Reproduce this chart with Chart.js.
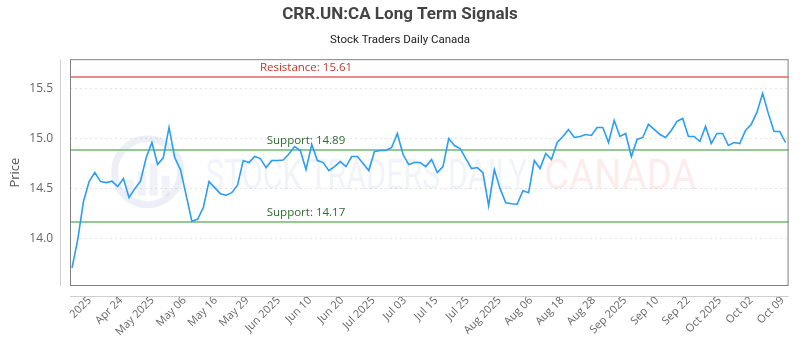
<!DOCTYPE html>
<html>
<head>
<meta charset="utf-8">
<script src="https://cdn.jsdelivr.net/npm/chart.js@4.4.1/dist/chart.umd.min.js"></script>
<style>
  html, body { margin: 0; padding: 0; background: #fff; }
  #wrap { width: 800px; height: 350px; position: relative; }
</style>
</head>
<body>
<div id="wrap"><canvas id="signals-canvas"></canvas></div>
<script>
// daily closes, Apr 11 2025 .. Oct 10 2025
const closes = [
    13.71, 13.99, 14.37, 14.57, 14.66, 14.57, 14.56, 14.575, 14.52, 14.60,
    14.41, 14.50, 14.575, 14.81, 14.96, 14.74, 14.81, 15.11, 14.81, 14.69,
    14.435, 14.175, 14.195, 14.31, 14.57, 14.51, 14.45, 14.435, 14.46, 14.535,
    14.78, 14.76, 14.82, 14.80, 14.71, 14.78, 14.78, 14.785, 14.845, 14.92,
    14.88, 14.69, 14.94, 14.78, 14.76, 14.68, 14.72, 14.77, 14.72, 14.82,
    14.82, 14.75, 14.68, 14.87, 14.88, 14.88, 14.91, 15.05, 14.84, 14.74,
    14.76, 14.76, 14.72, 14.79, 14.66, 14.72, 15.00, 14.93, 14.90, 14.80,
    14.70, 14.71, 14.66, 14.33, 14.69, 14.50, 14.36, 14.35, 14.345, 14.48,
    14.46, 14.78, 14.70, 14.85, 14.79, 14.96, 15.02, 15.09, 15.01, 15.02,
    15.04, 15.03, 15.11, 15.11, 14.96, 15.18, 15.02, 15.05, 14.82, 14.99,
    15.01, 15.14, 15.09, 15.04, 15.01, 15.08, 15.17, 15.20, 15.02, 15.02,
    14.97, 15.12, 14.95, 15.05, 15.05, 14.93, 14.96, 14.95, 15.08, 15.14,
    15.26, 15.45, 15.25, 15.07, 15.07, 14.96
];

// x tick labels and where they sit (in point-index units)
const xTickLabels = ['2025', 'Apr 24', 'May 2025', 'May 06', 'May 16', 'May 29', 'Jun 2025', 'Jun 10',
    'Jun 20', 'Jul 2025', 'Jul 03', 'Jul 15', 'Jul 25', 'Aug 2025', 'Aug 06', 'Aug 18', 'Aug 28',
    'Sep 2025', 'Sep 10', 'Sep 22', 'Oct 2025', 'Oct 02', 'Oct 09'];
const xTickAt = [3.1, 8.6, 14.1, 19.7, 25.2, 30.7, 36.2, 41.7, 47.3, 52.8, 58.3, 63.8,
    69.3, 74.9, 80.4, 85.9, 91.4, 96.9, 102.5, 108.0, 113.5, 119.0, 124.5];

const yTicks = [14.0, 14.5, 15.0, 15.5];

// signal levels
const levelNames  = ['Resistance', 'Support', 'Support'];
const levelValues = [15.61, 14.89, 14.17];
const levelLabelAt = 41;

const RED_LINE   = 'rgba(232,120,120,0.85)';
const RED_TEXT   = '#c0392b';
const GREEN_LINE = 'rgba(130,190,130,0.85)';
const GREEN_TEXT = '#2e6b2e';

const watermark = {
    id: 'watermark',
    beforeDatasetsDraw(chart) {
        const { ctx, chartArea: a } = chart;
        const w = a.right - a.left, h = a.bottom - a.top;
        ctx.save();
        // logo ring
        const cx = a.left + w * 0.108, cy = a.top + h * 0.496;
        ctx.strokeStyle = 'rgba(170,185,215,0.22)';
        ctx.lineWidth = 7;
        ctx.beginPath();
        ctx.arc(cx, cy, 33, 0, Math.PI * 2);
        ctx.stroke();
        ctx.fillStyle = 'rgba(170,185,215,0.18)';
        [[-18, 10], [-6, 18], [6, 26], [18, 14]].forEach(([dx, bh]) => {
            ctx.fillRect(cx + dx - 4, cy + 24 - bh - 6, 8, bh + 6);
        });
        ctx.font = '42px Roboto, sans-serif';
        ctx.textBaseline = 'middle';
        ctx.textAlign = 'left';
        ctx.fillStyle = 'rgba(150,170,210,0.14)';
        ctx.fillText('STOCK TRADERS DAILY', a.left + w * 0.189, a.top + h * 0.525, w * 0.447);
        ctx.fillStyle = 'rgba(240,100,100,0.12)';
        ctx.fillText('CANADA', a.left + w * 0.66, a.top + h * 0.525, w * 0.212);
        ctx.restore();
    }
};

const levels = {
    id: 'levels',
    beforeDatasetsDraw(chart) {
        const { ctx, chartArea: a, scales: { x, y } } = chart;
        ctx.save();
        levelValues.forEach((v, i) => {
            const py = Math.round(y.getPixelForValue(v));
            ctx.strokeStyle = i === 0 ? RED_LINE : GREEN_LINE;
            ctx.lineWidth = 2;
            ctx.beginPath();
            ctx.moveTo(a.left, py);
            ctx.lineTo(a.right, py);
            ctx.stroke();
            ctx.font = '11.5px "Open Sans", sans-serif';
            ctx.fillStyle = i === 0 ? RED_TEXT : GREEN_TEXT;
            ctx.textAlign = 'center';
            ctx.textBaseline = 'middle';
            ctx.fillText(levelNames[i] + ': ' + v.toFixed(2), x.getPixelForValue(levelLabelAt), py - 9);
        });
        ctx.restore();
    }
};

const frame = {
    id: 'frame',
    afterDraw(chart) {
        const { ctx, chartArea: a } = chart;
        ctx.save();
        ctx.strokeStyle = '#cfcfcf';
        ctx.lineWidth = 1;
        ctx.beginPath();
        ctx.moveTo(a.left - 9.5, a.top);
        ctx.lineTo(a.left - 9.5, a.bottom);
        ctx.moveTo(a.left, a.bottom + 10.5);
        ctx.lineTo(a.right, a.bottom + 10.5);
        ctx.stroke();
        ctx.strokeStyle = '#808080';
        ctx.strokeRect(a.left + 0.5, a.top + 0.5, a.right - a.left - 1, a.bottom - a.top - 1);
        ctx.restore();
    }
};

new Chart(document.getElementById('signals-canvas'), {
    type: 'line',
    data: {
        datasets: [{
            label: 'CRR.UN:CA',
            data: closes.map((v, i) => ({ x: i, y: v })),
            borderColor: '#2a9df4',
            borderWidth: 1.6,
            pointRadius: 0,
            tension: 0,
            fill: false
        }]
    },
    options: {
        responsive: true,
        maintainAspectRatio: false,
        animation: false,
        layout: { padding: 0 },
        plugins: {
            legend: { display: false },
            tooltip: { enabled: false },
            title: {
                display: true,
                text: 'CRR.UN:CA Long Term Signals',
                color: '#444',
                font: { family: 'Roboto, sans-serif', size: 17, weight: 'bold' },
                padding: { top: 5, bottom: 8 }
            },
            subtitle: {
                display: true,
                text: 'Stock Traders Daily Canada',
                color: '#222',
                font: { family: 'Roboto, sans-serif', size: 11.5 },
                padding: { top: 0, bottom: 12 }
            }
        },
        scales: {
            x: {
                type: 'linear',
                min: -0.35,
                max: 125.55,
                afterBuildTicks: axis => { axis.ticks = xTickAt.map(v => ({ value: v })); },
                afterFit: axis => { axis.height = 64; },
                ticks: {
                    autoSkip: false,
                    maxRotation: 45,
                    minRotation: 45,
                    padding: 8,
                    color: '#666',
                    font: { family: '"Open Sans", sans-serif', size: 11 },
                    callback: (v, i) => xTickLabels[i]
                },
                grid: { display: false, drawTicks: false },
                border: { display: false }
            },
            y: {
                min: 13.53,
                max: 15.79,
                afterBuildTicks: axis => { axis.ticks = yTicks.map(v => ({ value: v })); },
                afterFit: axis => { axis.width = 70; },
                title: {
                    display: true,
                    text: 'Price',
                    color: '#555',
                    font: { family: '"Open Sans", sans-serif', size: 13 },
                    padding: { top: 7, bottom: 0 }
                },
                ticks: {
                    padding: 17,
                    color: '#666',
                    font: { family: '"Open Sans", sans-serif', size: 12 },
                    callback: v => v.toFixed(1)
                },
                grid: { color: '#e4e4e4', drawTicks: false },
                border: { display: false, dash: [2, 3] }
            },
            // empty right gutter so the plot stops 10px short of the edge
            yRight: {
                position: 'right',
                display: true,
                afterFit: axis => { axis.width = 10; },
                ticks: { display: false },
                grid: { display: false, drawTicks: false },
                border: { display: false }
            }
        }
    },
    plugins: [watermark, levels, frame]
});
</script>
</body>
</html>
